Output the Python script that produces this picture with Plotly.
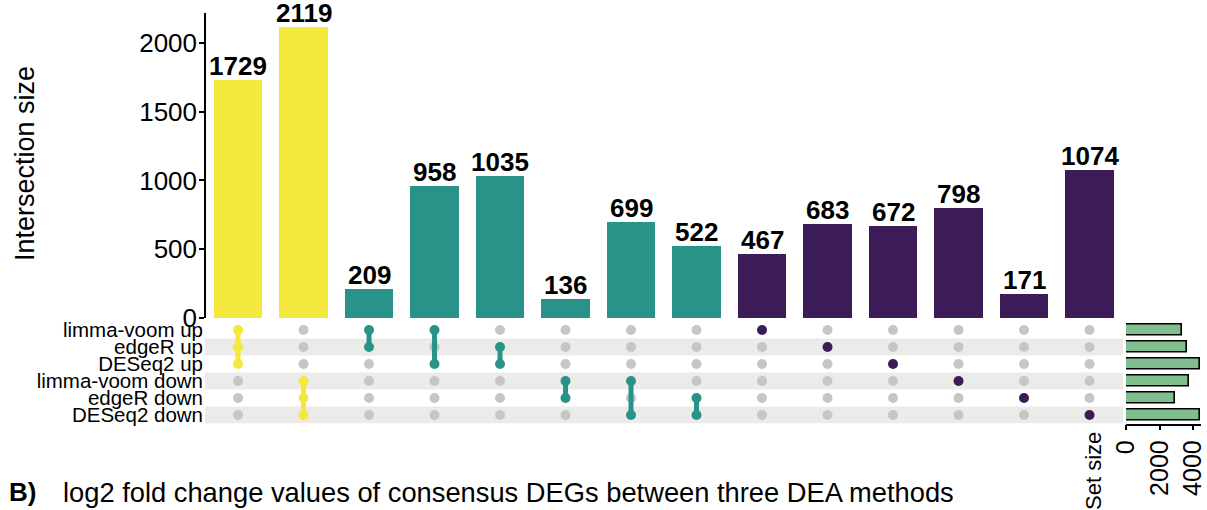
import plotly.graph_objects as go

# ---------------- data ----------------
set_names = ["limma-voom up", "edgeR up", "DESeq2 up",
             "limma-voom down", "edgeR down", "DESeq2 down"]
set_sizes = [3363, 3656, 4394, 3752, 2948, 4414]

intersection_sizes = [1729, 2119, 209, 958, 1035, 136, 699, 522,
                      467, 683, 672, 798, 171, 1074]
# membership: indices into set_names
memberships = [[0, 1, 2], [3, 4, 5], [0, 1], [0, 2], [1, 2], [3, 4], [3, 5], [4, 5],
               [0], [1], [2], [3], [4], [5]]
degree_group = ["three", "three", "two", "two", "two", "two", "two", "two",
                "one", "one", "one", "one", "one", "one"]

y_ticks = [0, 500, 1000, 1500, 2000]
set_ticks = [0, 2000, 4000]

# ---------------- style ----------------
W, H = 1207, 510
group_colors = {"three": "#F5E83C", "two": "#29938A", "one": "#3C1C56"}
inactive = "#C6C6C6"
stripe = "#EBEBEA"
setbar_color = "#80BE8D"
FONT = "Liberation Sans, Arial, sans-serif"


def px(x):
    return x / W


def py(y):
    return 1 - y / H


n = len(intersection_sizes)
xs = list(range(n))
bar_colors = [group_colors[g] for g in degree_group]

fig = go.Figure()

# main intersection bars
fig.add_trace(go.Bar(
    x=xs, y=intersection_sizes, marker=dict(color=bar_colors, line=dict(width=0)),
    width=0.735, xaxis="x", yaxis="y", hoverinfo="skip", showlegend=False))

# matrix: inactive dots
gx, gy = [], []
for i, mem in enumerate(memberships):
    for r in range(len(set_names)):
        if r not in mem:
            gx.append(i)
            gy.append(r)
fig.add_trace(go.Scatter(x=gx, y=gy, mode="markers",
                         marker=dict(size=10, color=inactive),
                         xaxis="x", yaxis="y2", showlegend=False, hoverinfo="skip"))

# matrix: connecting lines & active dots
for i, mem in enumerate(memberships):
    col = bar_colors[i]
    if len(mem) > 1:
        fig.add_trace(go.Scatter(x=[i, i], y=[min(mem), max(mem)], mode="lines",
                                 line=dict(color=col, width=5),
                                 xaxis="x", yaxis="y2", showlegend=False, hoverinfo="skip"))
    fig.add_trace(go.Scatter(x=[i] * len(mem), y=mem, mode="markers",
                             marker=dict(size=10, color=col),
                             xaxis="x", yaxis="y2", showlegend=False, hoverinfo="skip"))

# set size bars
fig.add_trace(go.Bar(
    x=set_sizes, y=list(range(len(set_names))), orientation="h", width=0.64,
    marker=dict(color=setbar_color, line=dict(color="black", width=1.6)),
    xaxis="x3", yaxis="y3", showlegend=False, hoverinfo="skip"))

# stripes behind matrix rows
shapes = []
for r in range(len(set_names)):
    if r % 2 == 1:
        shapes.append(dict(type="rect", xref="paper", yref="y2",
                           x0=px(205), x1=px(1123), y0=r - 0.5, y1=r + 0.5,
                           fillcolor=stripe, line=dict(width=0), layer="below"))

# bar value labels
annotations = []
for i, v in enumerate(intersection_sizes):
    annotations.append(dict(text="<b>%d</b>" % v, x=i, y=v, xref="x", yref="y",
                            showarrow=False, xanchor="center", yanchor="bottom",
                            yshift=-2, borderpad=0,
                            font=dict(size=26, family=FONT, color="black")))

annotations += [
    dict(text="Intersection size", textangle=-90, x=px(25), y=py(164),
         xref="paper", yref="paper", showarrow=False,
         xanchor="center", yanchor="middle",
         font=dict(size=27, family=FONT, color="black")),
    dict(text="Set size", textangle=-90, x=px(1093), y=py(430),
         xref="paper", yref="paper", showarrow=False,
         xanchor="center", yanchor="top",
         font=dict(size=22, family=FONT, color="black")),
    dict(text="<b>B)</b>", x=px(7), y=py(492), xref="paper", yref="paper",
         showarrow=False, xanchor="left", yanchor="middle",
         font=dict(size=26, family=FONT, color="black")),
    dict(text="log2 fold change values of consensus DEGs between three DEA methods",
         x=px(61), y=py(492), xref="paper", yref="paper",
         showarrow=False, xanchor="left", yanchor="middle",
         font=dict(size=27.3, family=FONT, color="black")),
]

x_left = -0.489
x_right = x_left + (1123 - 206) / 65.5

fig.update_layout(
    width=W, height=H, autosize=False,
    margin=dict(l=0, r=0, t=0, b=0, pad=0),
    paper_bgcolor="white", plot_bgcolor="rgba(0,0,0,0)",
    font=dict(family=FONT, color="black"),
    bargap=0,
    shapes=shapes,
    annotations=annotations,
    xaxis=dict(domain=[px(206), px(1123)], range=[x_left, x_right],
               showticklabels=False, showline=False, showgrid=False,
               zeroline=False, ticks="", anchor="y", automargin=False),
    yaxis=dict(domain=[py(318), py(13)], range=[0, 2218], tickvals=y_ticks,
               showline=True, linecolor="black", linewidth=1.5,
               ticks="outside", ticklen=5, tickwidth=1.5, tickcolor="black",
               tickfont=dict(size=26, family=FONT, color="black"),
               ticklabelstandoff=-3,
               showgrid=False, zeroline=False, anchor="x", automargin=False),
    yaxis2=dict(domain=[py(423.5), py(321.5)], range=[5.5, -0.5],
                tickvals=list(range(len(set_names))), ticktext=set_names,
                tickfont=dict(size=20.5, family=FONT, color="black"),
                showline=False, showgrid=False, zeroline=False, ticks="",
                ticklabelstandoff=2, anchor="x", automargin=False),
    xaxis3=dict(domain=[px(1126), px(1201)], range=[0, 4478], tickvals=set_ticks,
                tickangle=-90, showline=True, linecolor="black", linewidth=1.5,
                ticks="outside", ticklen=5, tickwidth=1.5, tickcolor="black",
                tickfont=dict(size=25, family=FONT, color="black"),
                showgrid=False, zeroline=False, anchor="y3", side="bottom",
                automargin=False),
    yaxis3=dict(domain=[py(423.5), py(321.5)], range=[5.5, -0.5],
                showticklabels=False, showline=False, showgrid=False,
                zeroline=False, ticks="", anchor="x3", automargin=False),
)

fig.write_html("out.html")
